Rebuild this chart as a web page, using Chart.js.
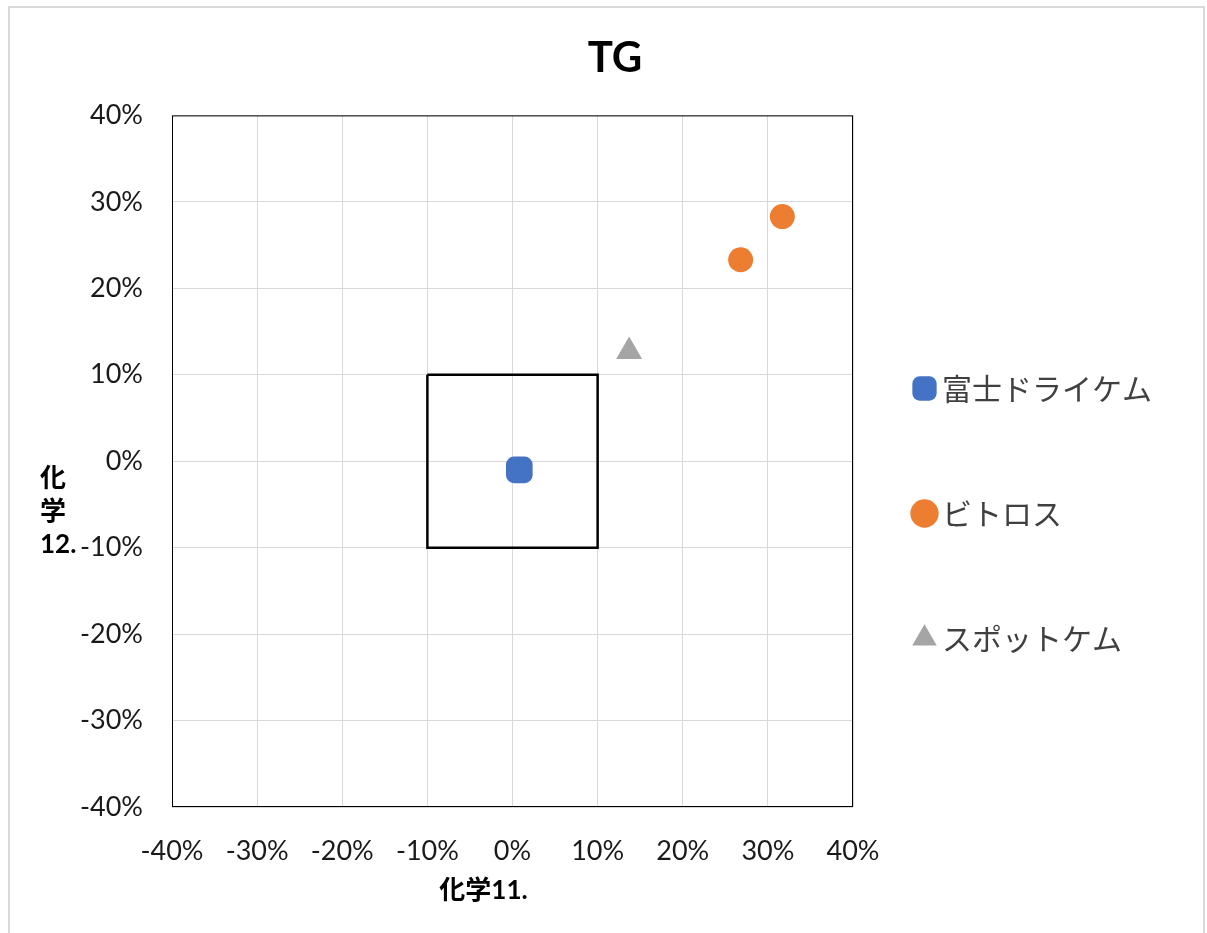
<!DOCTYPE html>
<html>
<head>
<meta charset="utf-8">
<script src="https://cdn.jsdelivr.net/npm/chart.js@4.4.1/dist/chart.umd.min.js"></script>
<style>
    html, body { margin: 0; padding: 0; background: #fff; }
    #wrap { position: relative; width: 1207px; height: 933px; overflow: hidden; }
    #frame { position: absolute; left: 8px; top: 6px; width: 1197px; height: 940px; border: 2px solid #d9d9d9; box-sizing: border-box; }
    canvas { position: absolute; left: 0; top: 0; }
</style>
</head>
<body>
<div id="wrap">
    <div id="frame"></div>
    <canvas id="chart" width="1207" height="933"></canvas>
</div>
<script>
const chartTitle = 'TG';
const xTitle = '化学11.';
const yTitle = ['化', '学', '12.'];
const seriesNames = ['富士ドライケム', 'ビトロス', 'スポットケム'];

// values (fractions, shown as %)
const fujiX = [0.008];
const fujiY = [-0.01];
const vitrosX = [0.268, 0.317];
const vitrosY = [0.233, 0.283];
const spotX = [0.137];
const spotY = [0.127];

// the ±10% square
const boxX = [-0.1, 0.1, 0.1, -0.1, -0.1];
const boxY = [0.1, 0.1, -0.1, -0.1, 0.1];

const axisTicks = [-0.4, -0.3, -0.2, -0.1, 0, 0.1, 0.2, 0.3, 0.4];

const toPoints = (xs, ys) => xs.map((x, i) => ({x: x, y: ys[i]}));
const pct = v => Math.round(v * 100) + '%';

const tickFont = {family: 'Lato', size: 27};
const axisTitleFont = 'bold 26px Lato, "Noto Sans CJK JP"';

const decorPlugin = {
    id: 'decor',
    afterLayout(chart) {
        // legend closer to the plot and lower, title a bit right, as in the original
        const lg = chart.legend;
        lg.left -= 26;
        lg.top += 57;
        lg.bottom += 57;
        const tb = chart.titleBlock;
        tb.left += 21;
        tb.right += 21;
    },
    beforeDatasetsDraw(chart) {
        const {ctx, chartArea: a} = chart;
        ctx.save();
        ctx.strokeStyle = '#000';
        ctx.lineWidth = 1;
        ctx.strokeRect(a.left + 0.5, a.top + 0.5, a.right - a.left - 1, a.bottom - a.top - 1);
        ctx.restore();
    },
    afterDraw(chart) {
        const {ctx, chartArea: a} = chart;
        const cx = (a.left + a.right) / 2;
        const cy = (a.top + a.bottom) / 2;
        ctx.save();
        ctx.fillStyle = '#000';
        ctx.font = axisTitleFont;
        ctx.textBaseline = 'middle';
        ctx.textAlign = 'center';
        ctx.fillText(xTitle, cx - 29, a.bottom + 84);
        ctx.textAlign = 'left';
        yTitle.forEach((t, i) => ctx.fillText(t, 40, cy + 17 + i * 33));
        ctx.restore();
    }
};

function drawChart() {
    new Chart(document.getElementById('chart'), {
        type: 'scatter',
        data: {
            datasets: [
                {
                    label: seriesNames[0],
                    data: toPoints(fujiX, fujiY),
                    pointStyle: 'rectRounded',
                    pointRadius: 15.5,
                    backgroundColor: '#4472C4',
                    borderColor: '#4472C4',
                    borderWidth: 0,
                    order: 1
                },
                {
                    label: seriesNames[1],
                    data: toPoints(vitrosX, vitrosY),
                    pointStyle: 'circle',
                    pointRadius: 12.5,
                    backgroundColor: '#ED7D31',
                    borderColor: '#ED7D31',
                    borderWidth: 0,
                    order: 1
                },
                {
                    label: seriesNames[2],
                    data: toPoints(spotX, spotY),
                    pointStyle: 'triangle',
                    pointRadius: 15,
                    backgroundColor: '#A5A5A5',
                    borderColor: '#A5A5A5',
                    borderWidth: 0,
                    order: 1
                },
                {
                    label: 'box',
                    data: toPoints(boxX, boxY),
                    showLine: true,
                    pointRadius: 0,
                    borderColor: '#000',
                    borderWidth: 2.5,
                    fill: false,
                    order: 10
                }
            ]
        },
        options: {
            responsive: false,
            animation: false,
            layout: {padding: {left: 0, right: 19, top: 0, bottom: 20}},
            plugins: {
                tooltip: {enabled: false},
                title: {
                    display: true,
                    text: chartTitle,
                    color: '#000',
                    font: {family: 'Lato', size: 42, weight: 'bold'},
                    padding: {top: 33, bottom: 32}
                },
                legend: {
                    position: 'right',
                    align: 'center',
                    maxWidth: 400,
                    labels: {
                        usePointStyle: true,
                        boxWidth: 5,
                        boxHeight: 20,
                        padding: 95,
                        color: '#404040',
                        font: {family: '"Noto Sans CJK JP"', size: 30},
                        filter: item => item.datasetIndex < 3
                    }
                }
            },
            scales: {
                x: {
                    type: 'linear',
                    min: -0.4,
                    max: 0.4,
                    afterBuildTicks: s => { s.ticks = axisTicks.map(v => ({value: v})); },
                    afterFit: s => { s.height = 106; },
                    grid: {color: '#d9d9d9', drawTicks: false},
                    border: {display: false},
                    ticks: {color: '#1a1a1a', font: tickFont, padding: 28, maxRotation: 0, callback: pct}
                },
                y: {
                    type: 'linear',
                    min: -0.4,
                    max: 0.4,
                    afterBuildTicks: s => { s.ticks = axisTicks.map(v => ({value: v})); },
                    afterFit: s => { s.width = 172; },
                    grid: {color: '#d9d9d9', drawTicks: false},
                    border: {display: false},
                    ticks: {color: '#1a1a1a', font: tickFont, padding: 29, callback: pct}
                }
            }
        },
        plugins: [decorPlugin]
    });
}

Promise.all([
    document.fonts.load('30px "Noto Sans CJK JP"', '富士ドライケム'),
    document.fonts.load('27px Lato'),
    document.fonts.load('bold 42px Lato'),
    document.fonts.load('bold 26px "Noto Sans CJK JP"', '化学')
]).then(drawChart, drawChart);
</script>
</body>
</html>
